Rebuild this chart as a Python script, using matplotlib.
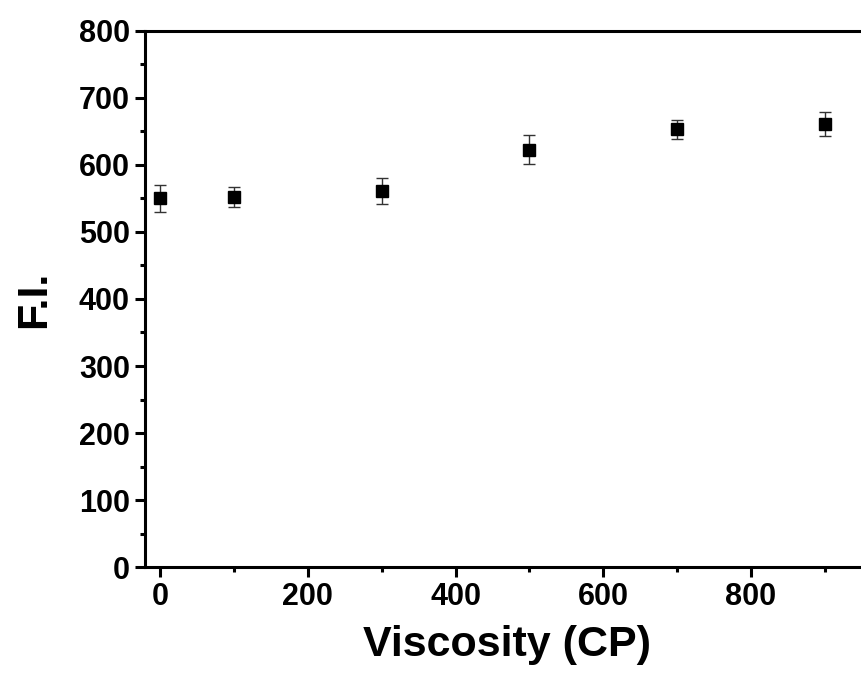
import matplotlib
matplotlib.use("Agg")
import matplotlib.pyplot as plt
from matplotlib.ticker import MultipleLocator

viscosity = [0, 100, 300, 500, 700, 900]
fi = [550, 552, 561, 623, 653, 661]
fi_err = [20, 15, 19, 22, 14, 18]

plt.rcParams['font.family'] = ['Liberation Sans', 'DejaVu Sans']
plt.rcParams['font.weight'] = 'bold'

fig = plt.figure(figsize=(8.61, 6.78), dpi=100)
# axes run past the right edge of the picture, as in the original
ax = fig.add_axes([0.1687, 0.1637, 0.84, 0.7906])

ax.errorbar(viscosity, fi, yerr=fi_err, fmt='s', color='black', ms=8,
            ecolor='#333333', elinewidth=1, capsize=4, capthick=1, clip_on=False)

ax.set_xlim(-20, 959)
ax.set_ylim(0, 800)
ax.xaxis.set_major_locator(MultipleLocator(200))
ax.xaxis.set_minor_locator(MultipleLocator(100))
ax.yaxis.set_major_locator(MultipleLocator(100))
ax.yaxis.set_minor_locator(MultipleLocator(50))

for s in ax.spines.values():
    s.set_linewidth(2.2)
ax.tick_params(which='major', direction='out', length=7, width=2.2, labelsize=22, pad=4)
ax.tick_params(which='minor', direction='out', length=3.5, width=2.2)
ax.tick_params(top=False, right=False, which='both')

ax.set_xlabel('Viscosity (CP)', fontsize=31, fontweight='bold', labelpad=9)
ax.set_ylabel('F.I.', fontsize=31, fontweight='bold', labelpad=18)

fig.savefig('out.png', dpi=100)
